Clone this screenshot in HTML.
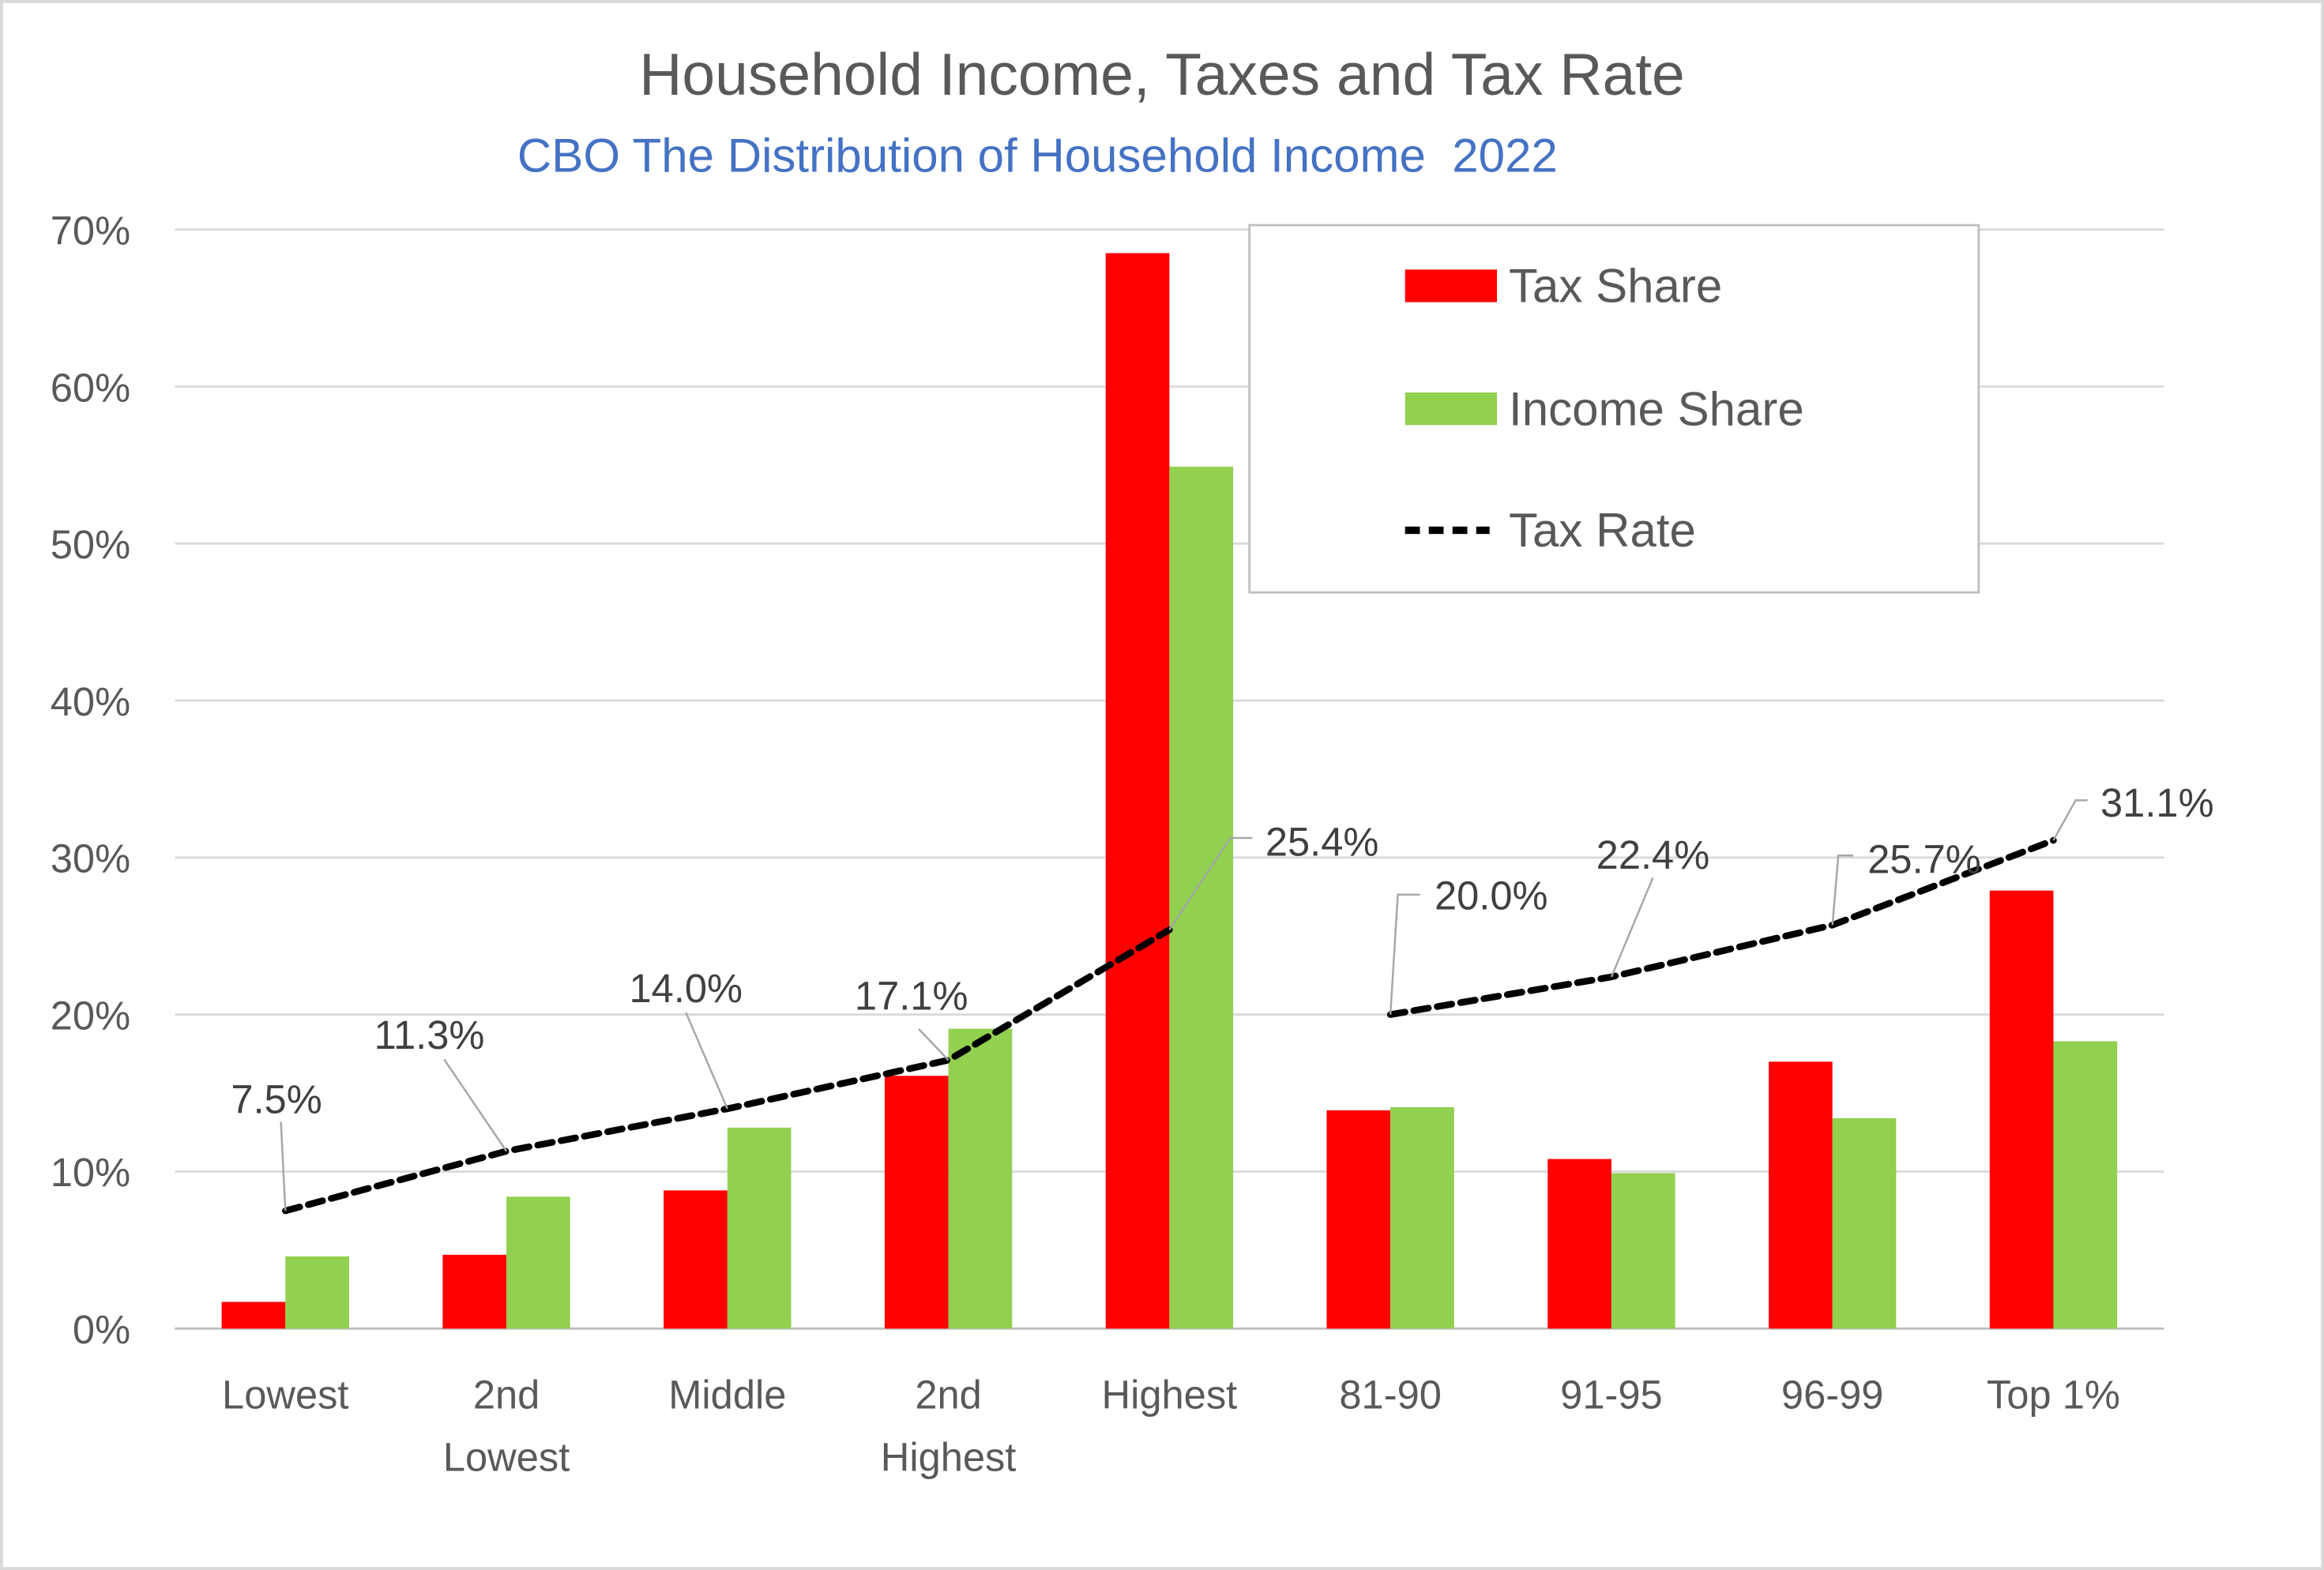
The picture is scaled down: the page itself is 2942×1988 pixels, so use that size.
<!DOCTYPE html>
<html><head><meta charset="utf-8"><style>
html,body{margin:0;padding:0;background:#fff}
svg{display:block}
text{font-family:"Liberation Sans","DejaVu Sans",sans-serif}
</style></head><body>
<svg id="chart" width="2942" height="1988" viewBox="0 0 1568 1060" preserveAspectRatio="none" xmlns="http://www.w3.org/2000/svg">
<rect x="1" y="1" width="1566" height="1058" fill="#fff" stroke="#d9d9d9" stroke-width="2"/>
<text x="784" y="64" text-anchor="middle" font-size="40" fill="#595959">Household Income, Taxes and Tax Rate</text>
<text x="700" y="116" text-anchor="middle" font-size="32" fill="#4472c4">CBO The Distribution of Household Income&#160; 2022</text>
<g id="grid"></g><g id="bars"></g><g id="line"></g><g id="labels"></g><g id="axes"></g>
<g>
<rect x="843" y="152" width="492" height="248" fill="#fff" stroke="#bfbfbf" stroke-width="1.5"/>
<rect x="948" y="182" width="62" height="22" fill="#ff0000"/>
<text x="1018" y="204" font-size="32" fill="#595959">Tax Share</text>
<rect x="948" y="265" width="62" height="22" fill="#92d050"/>
<text x="1018" y="287" font-size="32" fill="#595959">Income Share</text>
<line x1="948" y1="358" x2="1005" y2="358" stroke="#000" stroke-width="5" stroke-dasharray="10,6"/>
<text x="1018" y="369" font-size="32" fill="#595959">Tax Rate</text>
</g>
</svg>
<script>
const categories = [["Lowest"],["2nd","Lowest"],["Middle"],["2nd","Highest"],["Highest"],["81-90"],["91-95"],["96-99"],["Top 1%"]];
const taxShare = [1.7, 4.7, 8.8, 16.1, 68.5, 13.9, 10.8, 17.0, 27.9];
const incomeShare = [4.6, 8.4, 12.8, 19.1, 54.9, 14.1, 9.9, 13.4, 18.3];
const taxRateA = [7.5, 11.3, 14.0, 17.1, 25.4];
const taxRateB = [20.0, 22.4, 25.7, 31.1];
const yTicks = [0,10,20,30,40,50,60,70];
const labelOffsets = [[-6,-66],[-52,-69],[-28,-72],[-25,-34],[103,-50],[68,-71],[28,-73],[62,-35],[70,-16]];
const leaderEnds = [[-3,-60,0],[-42,-62,0],[-28,-65,0],[-20,-21,0],[41,-62,15],[5,-81,15],[28,-67,0],[4,-47,10],[15,-27,8]];
const NS="http://www.w3.org/2000/svg";
const L=118,R=1460,Y0=897,PER=106;
const y=v=>Y0-v*PER/10;
const bw=(R-L)/categories.length;
const xc=i=>L+bw*(i+0.5);
function mk(tag,attrs,parent,txt){const e=document.createElementNS(NS,tag);for(const k in attrs)e.setAttribute(k,attrs[k]);if(txt!==undefined)e.textContent=txt;document.getElementById(parent).appendChild(e);return e;}
yTicks.forEach(t=>{
 const g=mk('line',{x1:L,x2:R,y1:y(t),y2:y(t),stroke:t===0?'#bfbfbf':'#d9d9d9','stroke-width':1.5},'grid');
 
 
 const tx=mk('text',{x:88,y:y(t)+10,'text-anchor':'end','font-size':27,fill:'#595959'},'axes',t+'%');
 
 
});
const barW=43;
categories.forEach((c,i)=>{
 const r=mk('rect',{x:xc(i)-barW,y:y(taxShare[i]),width:barW,height:Y0-y(taxShare[i]),fill:'#ff0000'},'bars');
 
 
 const g=mk('rect',{x:xc(i),y:y(incomeShare[i]),width:barW,height:Y0-y(incomeShare[i]),fill:'#92d050'},'bars');
 
 
 c.forEach((ln,j)=>{
  const t=mk('text',{x:xc(i),y:951+j*42,'text-anchor':'middle','font-size':27,fill:'#595959'},'axes',ln);
  
  
 });
});
function drawLine(vals,start,name){
 const pts=vals.map((v,k)=>xc(start+k)+','+y(v)).join(' ');
 const p=mk('polyline',{points:pts,fill:'none',stroke:'#000','stroke-width':4.5,'stroke-dasharray':'10,6','stroke-linecap':'round'},'line');
 
 
 vals.forEach((v,k)=>{
  const i=start+k;const px=xc(i),py=y(v);const o=labelOffsets[i];const e=leaderEnds[i];
  const pts2=px+','+py+' '+(px+e[0])+','+(py+e[1])+' '+(px+e[0]+e[2])+','+(py+e[1]);
  const ll=mk('polyline',{points:pts2,fill:'none',stroke:'#a6a6a6','stroke-width':1.3},'labels');
  
  
  const t=mk('text',{x:px+o[0],y:py+o[1],'text-anchor':'middle','font-size':27,fill:'#404040'},'labels',v.toFixed(1)+'%');
  
  
 });
}
drawLine(taxRateA,0,'tax-rate-line-quintiles');
drawLine(taxRateB,5,'tax-rate-line-top');
</script>
</body></html>
